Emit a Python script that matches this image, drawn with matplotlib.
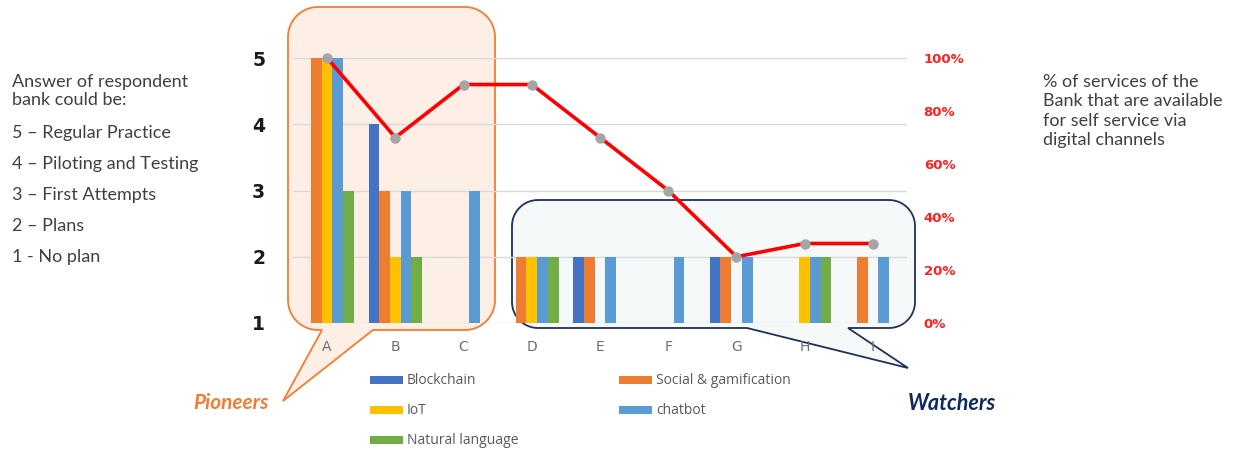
import numpy as np
import matplotlib
matplotlib.use("Agg")
import matplotlib.pyplot as plt
from matplotlib.patches import Polygon, Rectangle
from matplotlib.ticker import FuncFormatter

# ---------------- data ----------------
categories = ["A", "B", "C", "D", "E", "F", "G", "H", "I"]
series_names = ["Blockchain", "Social & gamification", "IoT", "chatbot", "Natural language"]
series_colors = ["#4472C4", "#ED7D31", "#FFC000", "#5B9BD5", "#70AD47"]
blockchain = [1, 4, 1, 1, 2, 1, 2, 1, 1]
social     = [5, 3, 1, 2, 2, 1, 2, 1, 2]
iot        = [5, 2, 1, 2, 1, 1, 1, 2, 1]
chatbot    = [5, 3, 3, 2, 2, 2, 2, 2, 2]
natural    = [3, 2, 1, 2, 1, 1, 1, 2, 1]
self_service_pct = [100, 70, 90, 90, 70, 50, 25, 30, 30]
left_ticks = [1, 2, 3, 4, 5]
right_ticks = [0, 20, 40, 60, 80, 100]
scale_text = ["5 \u2013 Regular Practice", "4 \u2013 Piloting and Testing",
              "3 \u2013 First Attempts", "2 \u2013 Plans", "1 - No plan"]

W, H = 1235, 449
fig = plt.figure(figsize=(W / 100, H / 100), dpi=100)
FONT = "Lato"

# overlay axes in pixel coordinates (for callouts / annotations)
ov = fig.add_axes([0, 0, 1, 1], zorder=0)
ov.set_xlim(0, W)
ov.set_ylim(H, 0)
ov.axis("off")


def arc(cx, cy, r, a0, a1, n=16):
    t = np.radians(np.linspace(a0, a1, n))
    return [(cx + r * np.cos(a), cy + r * np.sin(a)) for a in t]


def callout(x0, y0, x1, y1, r, tl, tr, tip):
    pts = [(x0 + r, y0), (x1 - r, y0)]
    pts += arc(x1 - r, y0 + r, r, -90, 0)
    pts += arc(x1 - r, y1 - r, r, 0, 90)
    pts += [(tr, y1), tip, (tl, y1)]
    pts += arc(x0 + r, y1 - r, r, 90, 180)
    pts += arc(x0 + r, y0 + r, r, 180, 270)
    return pts


ov.add_patch(Polygon(callout(288, 7, 495, 330, 30, 322, 373, (283, 401)),
                     closed=True, facecolor="#FDEEE6", edgecolor="#F47C30", lw=1.3))
ov.add_patch(Polygon(callout(512, 200, 915, 328, 26, 747, 848, (908, 368)),
                     closed=True, facecolor="#F5F9F9", edgecolor="#1F2F5E", lw=1.3))

# ---------------- main chart ----------------
ax = fig.add_axes([293 / W, (H - 323) / H, 614 / W, 265 / H], zorder=1)
ax.patch.set_alpha(0)
x = np.arange(len(categories))
bw = 0.157
all_series = [blockchain, social, iot, chatbot, natural]
for i, (vals, col) in enumerate(zip(all_series, series_colors)):
    ax.bar(x + (i - 2) * bw, vals, width=bw, color=col, zorder=2)
ax.set_xlim(-0.5, len(categories) - 0.5)
ax.set_ylim(1, 5)
ax.set_yticks(left_ticks)
ax.set_yticklabels([str(v) for v in left_ticks], fontsize=13.5, fontweight="bold",
                   fontfamily="DejaVu Sans", color="#1a1a1a")
ax.set_xticks(x)
ax.set_xticklabels(categories, fontsize=10, color="#6f6f6f", fontfamily="DejaVu Sans")
ax.tick_params(axis="y", length=0, pad=20)
ax.tick_params(axis="x", length=0, pad=12)
ax.grid(axis="y", color="#d9d9d9", lw=1, zorder=0)
ax.set_axisbelow(True)
for s in ax.spines.values():
    s.set_visible(False)

ax2 = ax.twinx()
ax2.patch.set_alpha(0)
ax2.plot(x, self_service_pct, color="#FF0000", lw=2.6, zorder=3, clip_on=False,
         marker="o", markersize=6.5, markerfacecolor="#A5A5A5", markeredgecolor="#A5A5A5")
ax2.set_ylim(0, 100)
ax2.set_yticks(right_ticks)
ax2.yaxis.set_major_formatter(FuncFormatter(lambda v, p: f"{int(v)}%"))
ax2.tick_params(axis="y", length=0, pad=12, labelsize=9.5, labelcolor="#FF2020")
for lab in ax2.get_yticklabels():
    lab.set_fontweight("bold")
for s in ax2.spines.values():
    s.set_visible(False)

# ---------------- texts ----------------
txtc = "#404040"
ov.text(12, 91, "Answer of respondent\nbank could be:", fontsize=13, family=FONT,
        color=txtc, va="center", ha="left", linespacing=1.2)
for k, t in enumerate(scale_text):
    ov.text(12, 133 + k * 31, t, fontsize=13, family=FONT, color=txtc,
            va="center", ha="left")
ov.text(1043, 111, "% of services of the\nBank that are available\nfor self service via\ndigital channels",
        fontsize=13, family=FONT, color=txtc, va="center", ha="left", linespacing=1.27)

ov.text(231, 403, "Pioneers", fontsize=15, fontweight="bold", style="italic",
        family=FONT, color="#F47C30", ha="center", va="center")
ov.text(952, 403, "Watchers", fontsize=15.5, fontweight="bold", style="italic",
        family=FONT, color="#0F2A5E", ha="center", va="center")

# ---------------- legend ----------------
leg_pos = [(370, 380), (619, 380), (370, 410), (619, 410), (370, 440)]
for (lx, ly), name, col in zip(leg_pos, series_names, series_colors):
    ov.add_patch(Rectangle((lx, ly - 4), 33, 8, facecolor=col, edgecolor="none"))
    ov.text(lx + 37, ly, name, fontsize=10, family="Open Sans", color="#595959",
            va="center", ha="left")

fig.savefig("out.png", dpi=100)
